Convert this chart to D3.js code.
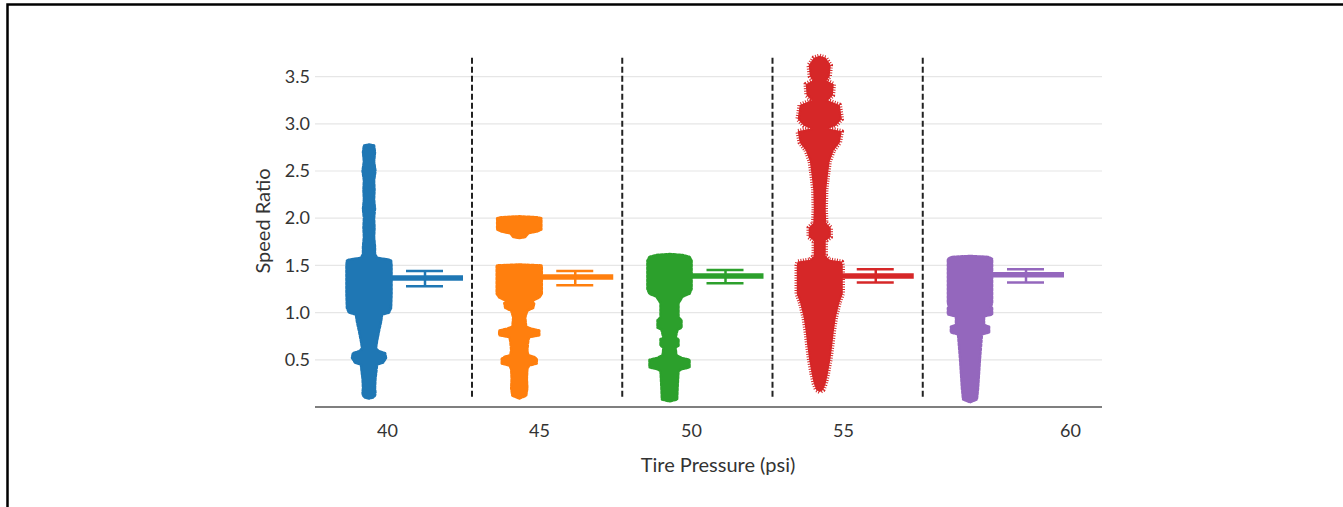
<!DOCTYPE html>
<html>
<head>
<meta charset="utf-8">
<script src="https://cdn.jsdelivr.net/npm/d3@7"></script>
<style>
  body { margin: 0; background: #fff; }
  text { font-family: Lato, "Open Sans", sans-serif; fill: #333; }
</style>
</head>
<body>
<svg id="chart" width="1343" height="507"></svg>
<script>
var groups = ["40", "45", "50", "55", "60"];
var colors = ["#1f77b4", "#ff7f0e", "#2ca02c", "#d62728", "#9467bd"];
var yTicks = [0.5, 1.0, 1.5, 2.0, 2.5, 3.0, 3.5];
var xTickLabels = [40, 45, 50, 55, 60];

// mean speed ratio with its error range, one per tire pressure
var means = [1.366, 1.377, 1.388, 1.388, 1.40];
var errLow = [1.28, 1.29, 1.31, 1.32, 1.32];
var errHigh = [1.44, 1.44, 1.45, 1.46, 1.46];

// outline of each point cloud: [speed ratio, relative density], null = gap
var dist40 = [[2.78,0],[2.77,22],[2.70,26],[2.60,22],[2.50,28],[2.40,22],[2.30,24],[2.20,22],[2.10,26],[2.00,22],[1.90,24],[1.80,22],[1.70,26],[1.62,26],[1.58,35],[1.56,87],[1.55,96],[1.50,98],[1.20,98],[1.05,96],[1.00,87],[0.98,57],[0.90,52],[0.80,43],[0.70,35],[0.62,30],[0.59,43],[0.57,70],[0.52,74],[0.47,61],[0.45,35],[0.40,33],[0.30,28],[0.20,26],[0.15,28],[0.12,26],[0.10,17],[0.09,0]];
var dist45 = [[2.02,0],[2.01,78],[2.00,96],[1.88,96],[1.86,78],[1.84,39],[1.80,26],[1.79,0],null,[1.51,0],[1.50,96],[1.49,98],[1.20,98],[1.16,87],[1.14,70],[1.12,52],[1.10,65],[1.05,61],[1.02,35],[0.95,26],[0.85,30],[0.83,52],[0.81,87],[0.76,87],[0.74,43],[0.70,39],[0.60,35],[0.55,39],[0.53,65],[0.51,76],[0.46,76],[0.44,43],[0.40,35],[0.30,33],[0.20,35],[0.12,30],[0.09,0]];
var dist50 = [[1.62,0],[1.61,57],[1.59,87],[1.55,96],[1.25,96],[1.20,87],[1.17,57],[1.10,39],[0.95,39],[0.92,52],[0.84,52],[0.82,35],[0.73,26],[0.72,39],[0.65,39],[0.63,26],[0.55,30],[0.52,52],[0.50,87],[0.42,87],[0.40,52],[0.38,39],[0.20,35],[0.08,33],[0.06,0]];
var dist55 = [[3.72,0],[3.70,26],[3.62,48],[3.50,43],[3.46,30],[3.42,61],[3.30,57],[3.25,35],[3.20,87],[3.05,96],[2.98,70],[2.95,39],[2.92,96],[2.80,87],[2.72,61],[2.60,43],[2.45,35],[2.30,28],[2.10,26],[1.95,28],[1.90,48],[1.80,48],[1.76,26],[1.60,26],[1.56,43],[1.54,96],[1.50,100],[1.20,100],[1.10,85],[0.95,70],[0.80,61],[0.65,54],[0.50,46],[0.35,35],[0.25,26],[0.18,15],[0.16,0]];
var dist60 = [[1.60,0],[1.59,78],[1.57,96],[1.10,96],[1.06,91],[1.05,96],[0.98,96],[0.96,61],[0.87,61],[0.85,83],[0.79,83],[0.77,52],[0.65,48],[0.50,43],[0.35,39],[0.20,35],[0.08,30],[0.05,0]];
var dists = [dist40, dist45, dist50, dist55, dist60];

var svg = d3.select("#chart");

var left = 315, right = 1102;

var y = d3.scaleLinear().domain([0, 3.5]).range([407, 76.6]);
var x = d3.scalePoint().domain(groups).range([369, 970]);
var w = d3.scaleLinear().domain([0, 100]).range([0, 23]);
// tick labels sit where the original figure put them
var xLab = d3.scaleLinear().domain([40, 55, 60]).range([387, 843, 1070]);

// frame
svg.append("path")
  .attr("d", "M7.5,507V4.5H1343")
  .attr("fill", "none")
  .attr("stroke", "#000")
  .attr("stroke-width", 2.5);

// grid
svg.append("g")
  .selectAll("line")
  .data(yTicks)
  .enter()
  .append("line")
  .attr("x1", left)
  .attr("x2", right)
  .attr("y1", d => y(d))
  .attr("y2", d => y(d))
  .attr("stroke", "#e6e6e6")
  .attr("stroke-width", 1.2);

// separators between pressures
svg.append("g")
  .selectAll("line")
  .data(groups.slice(0, 4))
  .enter()
  .append("line")
  .attr("x1", d => x(d) + 103)
  .attr("x2", d => x(d) + 103)
  .attr("y1", y(3.7))
  .attr("y2", y(0.1))
  .attr("stroke", "#222")
  .attr("stroke-width", 2)
  .attr("stroke-dasharray", "6,3");

// y axis labels
var yAxis = svg.append("g")
  .attr("transform", "translate(" + left + ",0)")
  .call(d3.axisLeft(y).tickValues(yTicks).tickFormat(d3.format(".1f")).tickSize(0).tickPadding(5));
yAxis.select(".domain").remove();
yAxis.selectAll("text").style("font-size", "18px").attr("fill", "#333");

// x axis
var xAxis = svg.append("g")
  .attr("transform", "translate(0," + y(0) + ")")
  .call(d3.axisBottom(xLab).tickValues(xTickLabels).tickSize(0).tickPadding(17));
xAxis.select(".domain").remove();
xAxis.selectAll("text").style("font-size", "18px").attr("fill", "#333");

svg.append("line")
  .attr("x1", left)
  .attr("x2", right)
  .attr("y1", y(0))
  .attr("y2", y(0))
  .attr("stroke", "#555")
  .attr("stroke-width", 1.6);

// mean bars and error bars
groups.forEach(function(g, i) {
  var cx = x(g);
  var c = colors[i];
  var eb = svg.append("g");
  eb.append("line")
    .attr("x1", cx).attr("x2", cx + 94)
    .attr("y1", y(means[i])).attr("y2", y(means[i]))
    .attr("stroke", c).attr("stroke-width", 5.5);
  eb.append("line")
    .attr("x1", cx + 56).attr("x2", cx + 56)
    .attr("y1", y(errLow[i])).attr("y2", y(errHigh[i]))
    .attr("stroke", c).attr("stroke-width", 2.5);
  [errLow[i], errHigh[i]].forEach(function(v) {
    eb.append("line")
      .attr("x1", cx + 37).attr("x2", cx + 74)
      .attr("y1", y(v)).attr("y2", y(v))
      .attr("stroke", c).attr("stroke-width", 2.5);
  });
});

// point clouds
groups.forEach(function(g, i) {
  var cx = x(g);
  var area = d3.area()
    .defined(d => d !== null)
    .y(d => y(d[0]))
    .x0(d => cx - w(d[1]))
    .x1(d => cx + w(d[1]));
  var red = i === 3;
  svg.append("path")
    .datum(dists[i])
    .attr("d", area)
    .attr("fill", colors[i])
    .attr("stroke", colors[i])
    .attr("stroke-width", red ? 4.5 : 2.5)
    .attr("stroke-dasharray", red ? "1,1.5" : "2.5,1.5")
    .attr("stroke-linecap", red ? "butt" : "round")
    .attr("stroke-linejoin", "round");
});

svg.append("text")
  .attr("x", 718)
  .attr("y", 472)
  .attr("text-anchor", "middle")
  .style("font-size", "20px")
  .text("Tire Pressure (psi)");

svg.append("text")
  .attr("transform", "translate(270,221) rotate(-90)")
  .attr("text-anchor", "middle")
  .style("font-size", "20px")
  .text("Speed Ratio");
</script>
</body>
</html>
